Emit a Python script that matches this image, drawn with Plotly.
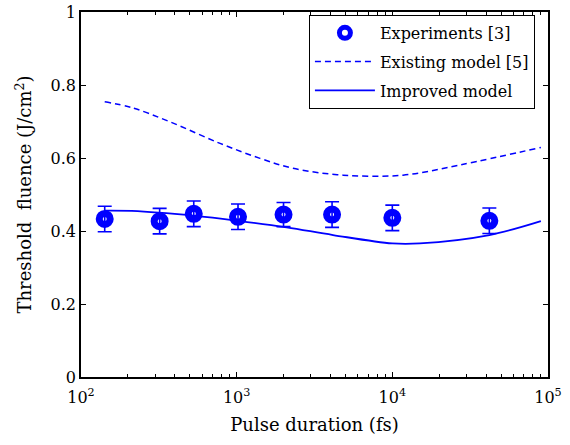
import plotly.graph_objects as go

exp_x = [142, 320, 530, 1020, 2000, 4100, 10000, 42000]
exp_y = [0.433, 0.427, 0.447, 0.439, 0.445, 0.445, 0.436, 0.428]
exp_err = [0.035, 0.035, 0.035, 0.035, 0.033, 0.035, 0.035, 0.035]

exist_x = [142, 212, 373, 782, 1413, 2300, 4820, 11700, 27200, 90000]
exist_y = [0.754, 0.738, 0.699, 0.640, 0.599, 0.572, 0.553, 0.553, 0.581, 0.629]

impr_x = [142, 212, 525, 1020, 2095, 4160, 10000, 15000, 42000, 90000]
impr_y = [0.456, 0.455, 0.442, 0.428, 0.410, 0.389, 0.366, 0.366, 0.389, 0.427]

BLUE = "#0000ff"
FONT = "'DejaVu Serif', serif"

fig = go.Figure()
fig.add_trace(go.Scatter(
    x=exp_x, y=exp_y, mode="markers", name="Experiments [3]", legendgroup="a",
    marker=dict(symbol="circle-open", size=11, color=BLUE, line=dict(color=BLUE, width=7)),
    error_y=dict(type="data", array=exp_err, color=BLUE, thickness=1.6, width=7),
))
fig.add_trace(go.Scatter(
    x=exist_x, y=exist_y, mode="lines", name="Existing model [5]", legendgroup="b",
    line=dict(color=BLUE, width=1.5, dash="6px,4px", shape="spline"),
))
fig.add_trace(go.Scatter(
    x=impr_x, y=impr_y, mode="lines", name="Improved model", legendgroup="c",
    line=dict(color=BLUE, width=1.8, shape="spline"),
))

decades = [100, 1000, 10000, 100000]
minor_vals = [m * d for d in [100, 1000, 10000] for m in range(2, 10)]

fig.update_layout(
    width=570, height=445,
    margin=dict(l=81, r=22, t=12, b=68),
    paper_bgcolor="white", plot_bgcolor="white",
    font=dict(family=FONT, size=16, color="black"),
    showlegend=True,
    legend=dict(
        x=0.972, y=0.992, xanchor="right", yanchor="top",
        bordercolor="black", borderwidth=1, bgcolor="white",
        font=dict(family=FONT, size=16), tracegroupgap=5, itemwidth=60,
    ),
    xaxis=dict(
        type="log", range=[2, 5], automargin=False,
        tickvals=decades, ticktext=["10<sup>2</sup>", "10<sup>3</sup>", "10<sup>4</sup>", "10<sup>5</sup>"],
        ticks="inside", ticklen=5, tickcolor="black", tickwidth=1, ticklabelstandoff=5,
        minor=dict(tickvals=minor_vals, ticks="inside", ticklen=3, tickcolor="black", tickwidth=1),
        showline=True, linecolor="black", linewidth=1.5, mirror="ticks",
        showgrid=False, zeroline=False,
        title=dict(text="Pulse duration (fs)", font=dict(family=FONT, size=18), standoff=12),
        tickfont=dict(family=FONT, size=16),
    ),
    yaxis=dict(
        range=[0, 1], automargin=False,
        tickvals=[0, 0.2, 0.4, 0.6, 0.8, 1],
        ticktext=["0", "0.2", "0.4", "0.6", "0.8", "1"],
        ticks="inside", ticklen=5, tickcolor="black", tickwidth=1,
        showline=True, linecolor="black", linewidth=1.5, mirror="ticks",
        showgrid=False, zeroline=False,
        title=dict(text="Threshold  fluence (J/cm<sup>2</sup>)", font=dict(family=FONT, size=18), standoff=14),
        tickfont=dict(family=FONT, size=16),
    ),
)

fig.write_html("out.html")
